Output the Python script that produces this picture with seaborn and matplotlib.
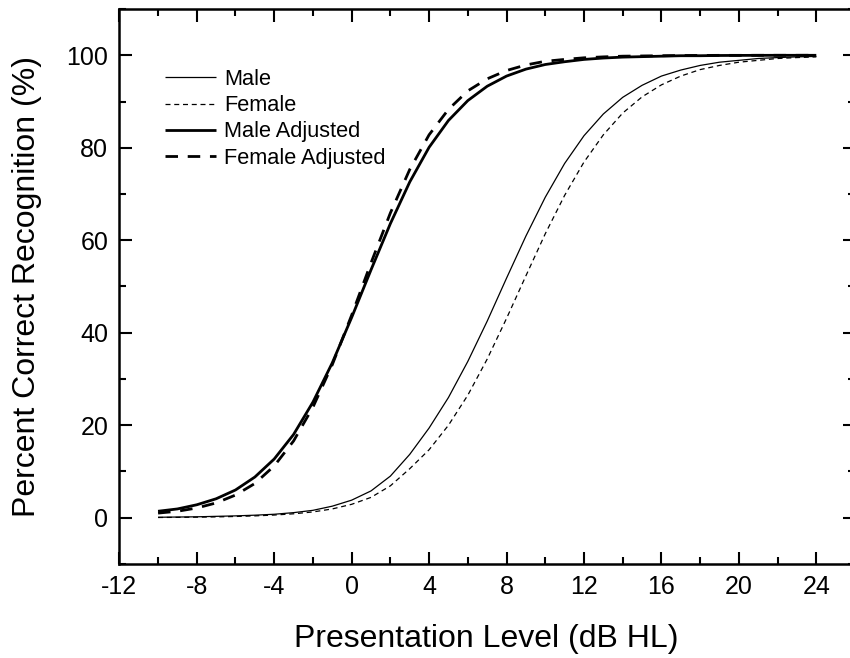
import matplotlib
matplotlib.use('Agg')
import matplotlib.pyplot as plt
from matplotlib.ticker import MultipleLocator
import numpy as np
import pandas as pd
import seaborn as sns

# presentation level (dB HL)
level = list(range(-10, 25))

# percent correct recognition
male = [0.10, 0.15, 0.20, 0.30, 0.40, 0.55, 0.75, 1.1, 1.6, 2.5,
        3.8, 5.8, 9.0, 13.7, 19.4, 26.0, 33.8, 42.5, 51.8, 60.9,
        69.3, 76.6, 82.6, 87.3, 90.9, 93.5, 95.5, 96.8, 97.8, 98.5,
        98.9, 99.3, 99.5, 99.65, 99.75]
female = [0.05, 0.08, 0.12, 0.18, 0.27, 0.40, 0.58, 0.85, 1.25, 1.9,
          2.9, 4.4, 6.9, 10.6, 14.7, 20.0, 26.5, 34.3, 43.1, 52.3,
          61.4, 69.7, 76.9, 82.8, 87.5, 91.0, 93.6, 95.5, 96.9, 97.8,
          98.5, 98.9, 99.3, 99.5, 99.65]
male_adj = [1.4, 1.9, 2.8, 4.1, 6.0, 8.8, 12.7, 18.0, 25.0, 33.5,
            43.3, 53.6, 63.6, 72.6, 80.1, 85.9, 90.2, 93.3, 95.5, 97.0,
            98.0, 98.6, 99.1, 99.4, 99.6, 99.7, 99.8, 99.9, 99.9, 99.95,
            99.97, 99.98, 99.99, 99.99, 99.99]
female_adj = [1.0, 1.4, 2.1, 3.2, 4.9, 7.4, 11.2, 16.6, 23.9, 33.1,
              43.8, 55.1, 65.9, 75.3, 82.8, 88.3, 92.3, 94.9, 96.7, 97.9,
              98.7, 99.1, 99.45, 99.65, 99.8, 99.85, 99.9, 99.94, 99.96, 99.98,
              99.98, 99.99, 99.99, 99.99, 100.0]

sns.set_style('ticks')
plt.rcParams['font.family'] = ['Liberation Sans', 'DejaVu Sans']
plt.rcParams['axes.unicode_minus'] = False
plt.rcParams['text.color'] = 'black'
plt.rcParams['axes.labelcolor'] = 'black'

fig = plt.figure(figsize=(8.5, 6.58), dpi=100)
ax = fig.add_axes([0.1404, 0.1429, 0.8655, 0.8434])

styles = [
    ('Male', male, 0.9, (0, (1, 0))),
    ('Female', female, 0.9, (0, (4, 3))),
    ('Male Adjusted', male_adj, 2.0, (0, (1, 0))),
    ('Female Adjusted', female_adj, 2.0, (0, (4.5, 3.5))),
]
for name, vals, lw, ls in styles:
    sns.lineplot(x=level, y=vals, ax=ax, color='black', lw=lw, ls=ls, label=name)

ax.set_xlim(-12, 26)
ax.set_ylim(-10, 110)
ax.xaxis.set_major_locator(MultipleLocator(4))
ax.xaxis.set_minor_locator(MultipleLocator(2))
ax.yaxis.set_major_locator(MultipleLocator(20))
ax.yaxis.set_minor_locator(MultipleLocator(10))
ax.set_xticks(np.arange(-12, 25, 4))
ax.set_yticks(np.arange(0, 101, 20))
ax.tick_params(which='both', direction='in', top=True, right=True,
               width=1.5, colors='black', labelsize=18, pad=8)
ax.tick_params(which='major', length=9)
ax.tick_params(which='minor', length=5)
for s in ax.spines.values():
    s.set_linewidth(1.8)
    s.set_color('black')

ax.set_xlabel('Presentation Level (dB HL)', fontsize=23)
ax.set_ylabel('Percent Correct Recognition (%)', fontsize=23)
ax.xaxis.set_label_coords(0.4988, -0.108)
ax.yaxis.set_label_coords(-0.105, 0.5)

leg = ax.legend(loc='upper left', bbox_to_anchor=(0.062, 0.892), frameon=False,
                fontsize=15.7, handlelength=2.35, handletextpad=0.35,
                labelspacing=0.24, borderpad=0, borderaxespad=0)

fig.savefig('out.png', dpi=100)
